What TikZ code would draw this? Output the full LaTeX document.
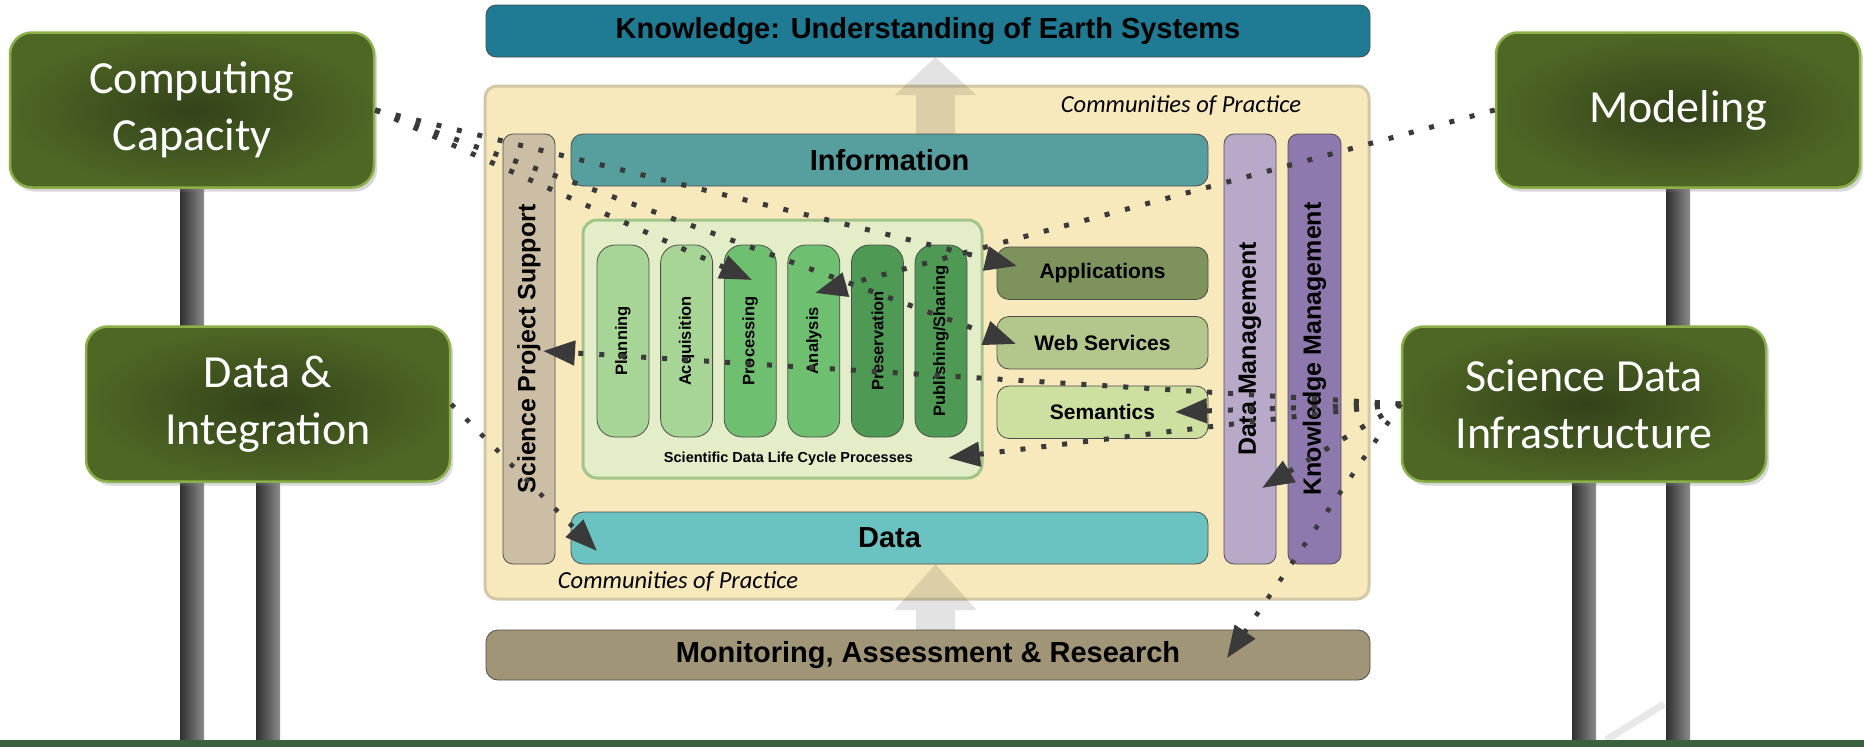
\documentclass[tikz,border=0pt]{standalone}
\usepackage{fontspec}
\setmainfont{Liberation Sans}
\newfontfamily\signfont{Carlito}
\usepackage{graphicx}
\usetikzlibrary{arrows.meta, positioning, shadows}

\definecolor{signdark}{HTML}{34421A}
\definecolor{signlight}{HTML}{4E6724}
\definecolor{signedge}{HTML}{8BB04B}
\definecolor{poledark}{HTML}{2F2F2F}
\definecolor{polelight}{HTML}{8C8C8C}
\definecolor{groundgreen}{HTML}{3C5F40}
\definecolor{knowblue}{HTML}{1F7A94}
\definecolor{copfill}{HTML}{F8E9BC}
\definecolor{copedge}{HTML}{D3C7A5}
\definecolor{infoteal}{HTML}{579E9F}
\definecolor{datateal}{HTML}{6AC3C0}
\definecolor{spstan}{HTML}{CCBEA4}
\definecolor{dmlilac}{HTML}{B8A9C9}
\definecolor{kmpurple}{HTML}{8D79AD}
\definecolor{lcfill}{HTML}{E3EEC8}
\definecolor{lcedge}{HTML}{A2C48B}
\definecolor{lclight}{HTML}{A7D596}
\definecolor{lcmid}{HTML}{6FBF70}
\definecolor{lcdark}{HTML}{4E9A55}
\definecolor{appolive}{HTML}{7E935C}
\definecolor{websage}{HTML}{B3C68B}
\definecolor{semlime}{HTML}{CDE0A0}
\definecolor{monkhaki}{HTML}{A09577}
\definecolor{edgegray}{HTML}{4D4D4D}
\definecolor{linkgray}{HTML}{3A3A3A}

\pgfdeclarelayer{back}
\pgfsetlayers{back,main}

\begin{document}
\begin{tikzpicture}[
    x=1pt, y=-1pt,
    sign/.style={rectangle, rounded corners=22pt, draw=signedge, line width=2.5pt, inner color=signdark, outer color=signlight, minimum width=364pt, minimum height=155pt, align=center, text=white, font=\signfont\fontsize{46}{57}\selectfont, drop shadow={opacity=0.3, shadow xshift=3pt, shadow yshift=-4pt}},
    hbar/.style={rectangle, rounded corners=12pt, draw=edgegray, line width=0.8pt, inner sep=0pt, outer sep=0pt, font=\bfseries\fontsize{29}{34}\selectfont},
    vbar/.style={rectangle, rounded corners=10pt, draw=edgegray, line width=0.8pt, inner sep=0pt, outer sep=0pt, minimum width=52pt, minimum height=430pt, font=\bfseries\fontsize{25}{30}\selectfont},
    pillar/.style={rectangle, rounded corners=18pt, draw=edgegray, line width=0.8pt, inner sep=0pt, outer sep=0pt, minimum width=52pt, minimum height=192pt, font=\bfseries\fontsize{16.5}{19}\selectfont},
    svcbox/.style={rectangle, rounded corners=12pt, draw=edgegray, line width=0.8pt, inner sep=0pt, outer sep=0pt, minimum width=211pt, minimum height=52.5pt, font=\bfseries\fontsize{21}{25}\selectfont},
    coplabel/.style={font=\signfont\itshape\fontsize{24.5}{29}\selectfont, inner sep=0pt},
    link/.style={draw=linkgray, line width=5pt, dash pattern=on 5pt off 16pt, -{Triangle[length=32pt,width=24pt]}},
    thinlink/.style={link, line width=4.6pt, dash pattern=on 4.6pt off 16.4pt},
    pole/.style={left color=poledark, right color=polelight}
]
\useasboundingbox (0,0) rectangle (1864,747);

% Signs
\node[sign] (comp) at (192,110) {Computing\\Capacity};
\node[sign] (model) at (1678,110) {Modeling};
\node[sign] (dni) at (268,404) {Data \&\\Integration};
\node[sign] (sdi) at (1584,404) {Science Data\\Infrastructure};

% Frame
\node[hbar, fill=knowblue, rounded corners=10pt, minimum width=884pt, minimum height=52pt] (know) at (928,31) {Knowledge: Understanding of Earth Systems};
\node[rectangle, rounded corners=12pt, draw=copedge, line width=3pt, fill=copfill, minimum width=884pt, minimum height=513pt] (cop) at (927,342.5) {};
\node[coplabel] (coptop) at (1181,105) {Communities of Practice};
\node[coplabel] (copbot) at (678,581) {Communities of Practice};

% Bars
\node[hbar, fill=infoteal, minimum width=637pt, minimum height=52pt] (info) at (889.5,160) {Information};
\node[hbar, fill=datateal, minimum width=637pt, minimum height=52pt] (data) at (889.5,538) {Data};
\node[vbar, fill=spstan] (sps) at (529,349) {\rotatebox{90}{Science Project Support}};
\node[vbar, fill=kmpurple, minimum width=53pt] (km) at (1314.5,349) {\rotatebox{90}{Knowledge Management}};
\node[vbar, fill=dmlilac, left=12pt of km] (dm) {\rotatebox{90}{Data Management}};
\node[hbar, fill=monkhaki, minimum width=884pt, minimum height=50pt] (mon) at (928,655) {Monitoring, Assessment \& Research};

% Life cycle
\node[rectangle, rounded corners=14pt, draw=lcedge, line width=3pt, fill=lcfill, minimum width=399pt, minimum height=258pt] (lc) at (782.5,349) {};
\node[font=\bfseries\fontsize{14.5}{17}\selectfont, inner sep=0pt, above=14pt of lc.south, xshift=6pt] (lclabel) {Scientific Data Life Cycle Processes};
\node[pillar, fill=lclight] (plan) at (623,341) {\rotatebox{90}{Planning}};
\node[pillar, fill=lclight, right=11.6pt of plan] (acq) {\rotatebox{90}{Acquisition}};
\node[pillar, fill=lcmid, right=11.6pt of acq] (proc) {\rotatebox{90}{Processing}};
\node[pillar, fill=lcmid, right=11.6pt of proc] (ana) {\rotatebox{90}{Analysis}};
\node[pillar, fill=lcdark, right=11.6pt of ana] (pres) {\rotatebox{90}{Preservation}};
\node[pillar, fill=lcdark, right=11.6pt of pres] (pub) {\rotatebox{90}{Publishing/Sharing}};

% Services
\node[svcbox, fill=appolive] (apps) at (1102.5,273.25) {Applications};
\node[svcbox, fill=websage, below=17pt of apps] (web) {Web Services};
\node[svcbox, fill=semlime, below=17pt of web] (sem) {Semantics};

% Flow arrows
\coordinate (upx) at (935.5,0);
\begin{scope}[transparency group, opacity=0.11]
\draw[line width=39pt, -{Triangle[length=38pt,width=79pt]}] (info.north -| upx) -- (know.south -| upx);
\draw[line width=39pt, -{Triangle[length=46pt,width=79pt]}] (mon.north -| upx) -- (data.south -| upx);
\end{scope}

% Posts and ground
\begin{pgfonlayer}{back}
\fill[white] (0,0) rectangle (1864,747);
\foreach \s in {comp,model,dni,sdi}
  \shade[pole] ([xshift=-12pt]\s.south) rectangle ([xshift=12pt]\s.south |- 0,741);
\draw[line width=7pt, black!9] (1606,740) -- (1664,704);
\fill[groundgreen] (0,740) rectangle (1864,747);
\end{pgfonlayer}

% Links
\coordinate (procTip) at (752,280);
\coordinate (webTip) at (1016,344);
\coordinate (appTip) at (1017,266);
\coordinate (anaTip) at (815,293);
\coordinate (dataTip) at (597,551);
\coordinate (spsTip) at (543,351);
\coordinate (semTip) at (1175,412);
\coordinate (lcTip) at (948,458);
\coordinate (dmTip) at (1262,488);
\coordinate (monTip) at (1227,658);
\draw[link] (comp.east) -- (procTip);
\draw[link] (comp.east) -- (webTip);
\draw[link] (comp.east) -- (appTip);
\draw[link] (model.west) -- (anaTip);
\draw[thinlink] (dni.east) -- (dataTip);
\draw[link] (sdi.west) -- (spsTip);
\draw[link] (sdi.west) -- (semTip);
\draw[link] (sdi.west) -- (lcTip);
\draw[link] (sdi.west) -- (dmTip);
\draw[thinlink] (sdi.west) -- (monTip);

\end{tikzpicture}
\end{document}
